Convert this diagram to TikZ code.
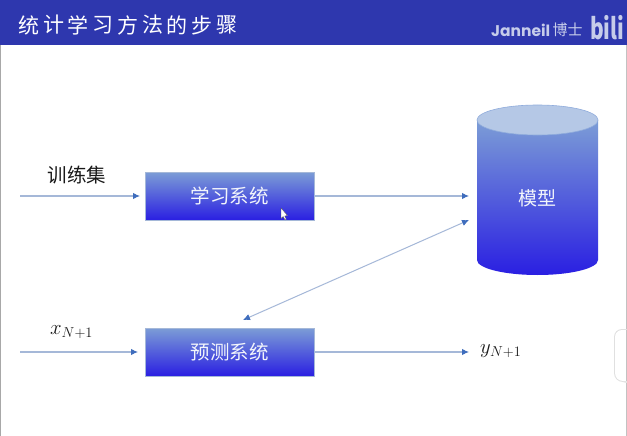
\documentclass[tikz,border=0pt]{standalone}
\usepackage{fontspec}
\setmainfont{Liberation Sans}
\newfontfamily\cjk{Noto Sans CJK SC}
\newfontfamily\poppins{Poppins}
\usetikzlibrary{arrows.meta}
\definecolor{bandblue}{HTML}{2E37AE}
\definecolor{gradtop}{HTML}{7C9DD6}
\definecolor{gradmid}{HTML}{3D5FC2}
\definecolor{gradbot}{HTML}{2A1FE2}
\definecolor{lidblue}{HTML}{B5C8E6}
\definecolor{linkblue}{HTML}{A5B8D8}
\definecolor{tipblue}{HTML}{3F6DBD}
\definecolor{edgegray}{HTML}{A8A8A8}
\definecolor{markwhite}{HTML}{C6CCEA}
\tikzset{
  sysbox/.style={minimum width=169pt,minimum height=48pt,inner sep=0pt,draw=linkblue,line width=.6pt,
    top color=gradtop,middle color=gradmid,bottom color=gradbot,text=white!90!gradtop,font=\cjk\fontsize{19.5}{20}\selectfont},
  link/.style={draw=linkblue,line width=1.1pt,-{Latex[length=7pt,width=6.5pt,color=tipblue]}},
  biglink/.style={draw=linkblue,line width=1pt,{Latex[length=7pt,width=6.5pt,color=tipblue]}-{Latex[length=7pt,width=6.5pt,color=tipblue]}},
  lbl/.style={inner sep=0pt,text=black!90},
  titlechar/.style={inner sep=0pt,text=white,font=\cjk\fontsize{21}{21}\selectfont},
}
\begin{document}
\begin{tikzpicture}[x=1pt,y=-1pt]
\useasboundingbox (0,0) rectangle (627,436);
\fill[white] (0,0) rectangle (627,436);
\fill[bandblue] (0,0) rectangle (627,45);
\fill[edgegray] (0,45) rectangle (1,436);
\fill[edgegray!70] (626,45) rectangle (627,436);
% side tab
\fill[black!12] (627,329) -- (622,329) arc[start angle=90,end angle=180,radius=8pt] -- (614,373) arc[start angle=180,end angle=270,radius=9pt] -- (627,383) -- cycle;
\fill[white] (627,330) -- (622,330) arc[start angle=90,end angle=180,radius=7pt] -- (615,373) arc[start angle=180,end angle=270,radius=8pt] -- (627,381) -- cycle;
\fill[edgegray!70] (626,330) rectangle (627,381);
% title
\foreach \c [count=\i from 0] in {统,计,学,习,方,法,的,步,骤}
  \node[titlechar] (t\i) at ({29+24.7*\i},25) {\c};
\node[inner sep=0pt,text=markwhite,font=\poppins\bfseries\fontsize{15.5}{16}\selectfont,anchor=west] (author) at (491,30) {Janneil};
\node[inner sep=0pt,text=markwhite,font=\cjk\fontsize{15}{15}\selectfont,anchor=west] (author2) at (552.5,30) {博士};
\node[inner sep=0pt,text=markwhite,font=\cjk\bfseries\fontsize{29}{29}\selectfont,anchor=west,xscale=.72] (logo) at (590,28) {bili};
% cylinder
\shade[top color=gradtop,middle color=gradmid,bottom color=gradbot]
  (477,120) -- (598,120) -- (598,260) arc[start angle=0,end angle=-180,x radius=60.5pt,y radius=15pt] -- cycle;
\draw[draw=gradtop!85!white,line width=.6pt,fill=lidblue] (537.5,120) ellipse[x radius=60.5pt,y radius=15pt];
\node[inner sep=0pt,text=white!90!gradtop,font=\cjk\fontsize{19}{19}\selectfont] (model) at (537,198) {模型};
% boxes
\node[sysbox] (learn) at (229.5,196) {学习系统};
\node[sysbox] (predict) at (229.5,352) {预测系统};
% free ends
\coordinate (trainS) at (20,196);
\coordinate (trainE) at (140,196);
\coordinate (modelIn) at (469,196);
\coordinate (dblA) at (469,220);
\coordinate (dblB) at (243,320);
\coordinate (xS) at (20,352);
\coordinate (xE) at (138,352);
\coordinate (yE) at (469,352);
\draw[link] (trainS) -- (trainE);
\draw[link] (learn.east) -- (modelIn);
\draw[biglink] (dblA) -- (dblB);
\draw[link] (xS) -- (xE);
\draw[link] (predict.east) -- (yE);
% labels
\node[lbl,font=\cjk\fontsize{19.5}{20}\selectfont] (train) at (77,175) {训练集};
\node[lbl,anchor=base west,font=\fontsize{20}{20}\selectfont] (xlab) at (50,334) {$x_{N+1}$};
\node[lbl,anchor=base west,font=\fontsize{20}{20}\selectfont] (ylab) at (480,353) {$y_{N+1}$};
% cursor
\fill[white,draw=black!70,line width=.3pt] (281,208) -- (281,218.5) -- (283.2,216.5) -- (285,220) -- (286.3,219.3) -- (284.7,216) -- (287.5,215.5) -- cycle;
\end{tikzpicture}
\end{document}
